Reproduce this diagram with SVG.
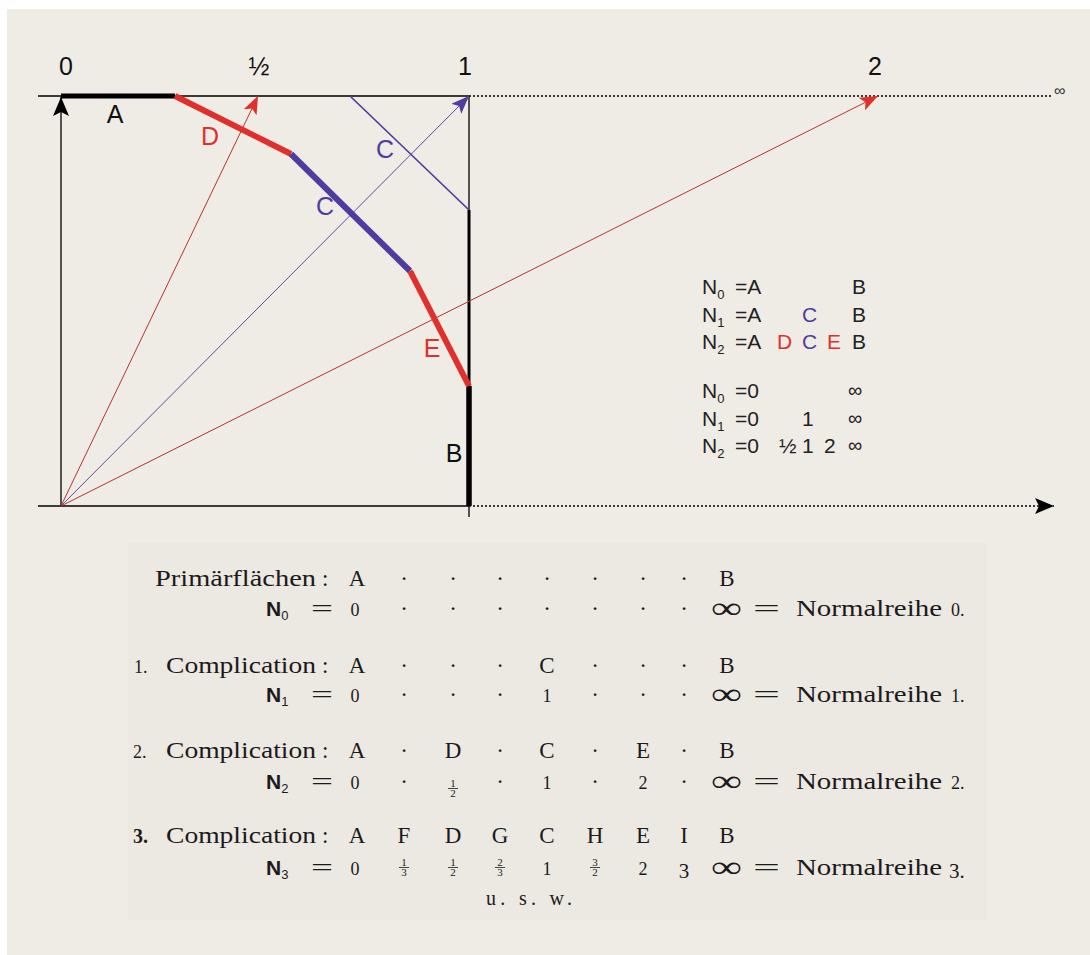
<svg xmlns="http://www.w3.org/2000/svg" width="1090" height="955" viewBox="0 0 1090 955">
<style>
.sans{font-family:"Liberation Sans",Arial,sans-serif;}
.serif{font-family:"Liberation Serif","Times New Roman",serif;fill:#1b1b1b;}
.lbl{font-family:"Liberation Sans",Arial,sans-serif;font-size:25px;}
.tick{font-family:"Liberation Sans",Arial,sans-serif;font-size:25px;fill:#111;text-anchor:middle;}
.tbl{font-family:"Liberation Sans",Arial,sans-serif;font-size:21px;fill:#222;}
.sub{font-size:13px;}
.inf{font-size:20px;}
.red{fill:#e0302c;}
.blue{fill:#4e3d9e;}
.big{font-size:23px;}
.m{text-anchor:middle;}
.num{font-size:18px;text-anchor:middle;}
.fr{font-size:11px;text-anchor:middle;}
.bar{stroke:#1b1b1b;stroke-width:0.8;}
.dot{font-size:23px;text-anchor:middle;}
.nb{font-family:"Liberation Sans",Arial,sans-serif;font-weight:bold;font-size:21px;fill:#1b1b1b;}
</style>
<defs>
<marker id="arRed" markerUnits="userSpaceOnUse" markerWidth="20" markerHeight="16" refX="18" refY="7" orient="auto"><path d="M0,0 L18,7 L0,14 L4,7 z" fill="#e0302c"/></marker>
<marker id="arBlue" markerUnits="userSpaceOnUse" markerWidth="20" markerHeight="16" refX="18" refY="7" orient="auto"><path d="M0,0 L18,7 L0,14 L4,7 z" fill="#4e3d9e"/></marker>
<marker id="arBlack" markerUnits="userSpaceOnUse" markerWidth="22" markerHeight="18" refX="19" refY="8" orient="auto"><path d="M0,0 L19,8 L0,16 L4,8 z" fill="#000"/></marker>
</defs>
<rect x="0" y="0" width="1090" height="955" fill="#ffffff"/>
<rect x="7" y="9" width="1083" height="946" fill="#efebe5"/>
<rect x="128" y="543" width="859" height="377" fill="#ece8e2"/>

<g id="connectors" fill="none">
  <line x1="38" y1="96" x2="469" y2="96" stroke="#000" stroke-width="1.5"/>
  <line x1="469" y1="96" x2="1053" y2="96" stroke="#000" stroke-width="1.5" stroke-dasharray="2,2"/>
  <line x1="38" y1="506" x2="469" y2="506" stroke="#000" stroke-width="1.5"/>
  <line x1="469" y1="506" x2="1054" y2="506" stroke="#000" stroke-width="1.5" stroke-dasharray="2,2" marker-end="url(#arBlack)"/>
  <line x1="61" y1="506" x2="61" y2="97" stroke="#000" stroke-width="1.3" marker-end="url(#arBlack)"/>
  <line x1="469" y1="96" x2="469" y2="517" stroke="#000" stroke-width="1.3"/>
  <line x1="469" y1="210" x2="469" y2="386" stroke="#000" stroke-width="3"/>
  <line x1="469" y1="386" x2="469" y2="506" stroke="#000" stroke-width="5.5"/>
  <line x1="61" y1="506" x2="258" y2="96" stroke="#b8342c" stroke-width="1" marker-end="url(#arRed)"/>
  <line x1="61" y1="506" x2="469" y2="96" stroke="#5a4fa6" stroke-width="1" marker-end="url(#arBlue)"/>
  <line x1="61" y1="506" x2="878" y2="96" stroke="#b8342c" stroke-width="1" marker-end="url(#arRed)"/>
  <line x1="350" y1="96" x2="469" y2="210" stroke="#4e3d9e" stroke-width="1.7"/>
  <line x1="61" y1="96" x2="175" y2="96" stroke="#000" stroke-width="5"/>
  <line x1="175" y1="96" x2="291" y2="154" stroke="#e0302c" stroke-width="6"/>
  <line x1="291" y1="154" x2="410" y2="271" stroke="#4e3d9e" stroke-width="6"/>
  <line x1="410" y1="271" x2="469" y2="386" stroke="#e0302c" stroke-width="6"/>
</g>

<g id="axis-labels">
  <text class="tick" x="66" y="75">0</text>
  <text class="tick" x="259" y="75">½</text>
  <text class="tick" x="465" y="75">1</text>
  <text class="tick" x="875" y="75">2</text>
  <text class="sans" x="1054" y="96" font-size="16" fill="#333">∞</text>
</g>

<g id="segment-labels">
  <text class="lbl" x="115" y="123" text-anchor="middle" fill="#111">A</text>
  <text class="lbl red" x="210" y="145" text-anchor="middle">D</text>
  <text class="lbl blue" x="385" y="158" text-anchor="middle">C</text>
  <text class="lbl blue" x="325" y="215" text-anchor="middle">C</text>
  <text class="lbl red" x="432" y="357" text-anchor="middle">E</text>
  <text class="lbl" x="454" y="462" text-anchor="middle" fill="#111">B</text>
</g>

<g id="legend-letters" class="tbl">
  <text x="702" y="294">N<tspan class="sub" dy="5">0</tspan><tspan dy="-5" x="735">=A</tspan></text>
  <text x="852" y="294">B</text>
  <text x="702" y="322">N<tspan class="sub" dy="5">1</tspan><tspan dy="-5" x="735">=A</tspan></text>
  <text x="802" y="322" class="blue">C</text>
  <text x="852" y="322">B</text>
  <text x="702" y="349">N<tspan class="sub" dy="5">2</tspan><tspan dy="-5" x="735">=A</tspan></text>
  <text x="777" y="349" class="red">D</text>
  <text x="802" y="349" class="blue">C</text>
  <text x="827" y="349" class="red">E</text>
  <text x="852" y="349">B</text>
</g>

<g id="legend-numbers" class="tbl">
  <text x="702" y="398">N<tspan class="sub" dy="5">0</tspan><tspan dy="-5" x="735">=0</tspan></text>
  <text x="848" y="397" class="inf">∞</text>
  <text x="702" y="426">N<tspan class="sub" dy="5">1</tspan><tspan dy="-5" x="735">=0</tspan></text>
  <text x="802" y="426">1</text>
  <text x="848" y="425" class="inf">∞</text>
  <text x="702" y="453">N<tspan class="sub" dy="5">2</tspan><tspan dy="-5" x="735">=0</tspan></text>
  <text x="779" y="453">½</text>
  <text x="802" y="453">1</text>
  <text x="824" y="453">2</text>
  <text x="848" y="452" class="inf">∞</text>
</g>

<g id="table" class="serif">
  <text x="155" y="586" font-size="23" textLength="161" lengthAdjust="spacingAndGlyphs">Primärflächen</text>
  <text x="322" y="586" font-size="23">:</text>
  <text class="big m" x="357" y="586">A</text>
  <g class="dot"><text x="404" y="586">·</text><text x="453" y="586">·</text><text x="500" y="586">·</text><text x="547" y="586">·</text><text x="595" y="586">·</text><text x="643" y="586">·</text><text x="684" y="586">·</text></g>
  <text class="big m" x="727" y="586">B</text>

  <text class="nb" x="266" y="616">N<tspan font-size="13" font-weight="normal" dy="4">0</tspan></text>
  <text x="311" y="616" font-size="23" textLength="22" lengthAdjust="spacingAndGlyphs">=</text>
  <text class="num" x="355" y="616">0</text>
  <g class="dot"><text x="404" y="616">·</text><text x="453" y="616">·</text><text x="500" y="616">·</text><text x="547" y="616">·</text><text x="595" y="616">·</text><text x="643" y="616">·</text><text x="684" y="616">·</text></g>
  <text x="711" y="618" font-size="30" textLength="31" lengthAdjust="spacingAndGlyphs">∞</text>
  <text x="753" y="616" font-size="23" textLength="27" lengthAdjust="spacingAndGlyphs">=</text>
  <text x="796" y="616" font-size="23" textLength="146" lengthAdjust="spacingAndGlyphs">Normalreihe</text>
  <text x="951" y="616" font-size="18">0.</text>

  <text x="134" y="673" font-size="18">1.</text>
  <text x="166" y="673" font-size="23" textLength="150" lengthAdjust="spacingAndGlyphs">Complication</text>
  <text x="322" y="673" font-size="23">:</text>
  <text class="big m" x="357" y="673">A</text>
  <g class="dot"><text x="404" y="673">·</text><text x="453" y="673">·</text><text x="500" y="673">·</text></g>
  <text class="big m" x="547" y="673">C</text>
  <g class="dot"><text x="595" y="673">·</text><text x="643" y="673">·</text><text x="684" y="673">·</text></g>
  <text class="big m" x="727" y="673">B</text>

  <text class="nb" x="266" y="702">N<tspan font-size="13" font-weight="normal" dy="4">1</tspan></text>
  <text x="311" y="702" font-size="23" textLength="22" lengthAdjust="spacingAndGlyphs">=</text>
  <text class="num" x="355" y="702">0</text>
  <g class="dot"><text x="404" y="702">·</text><text x="453" y="702">·</text><text x="500" y="702">·</text></g>
  <text class="num" x="547" y="702">1</text>
  <g class="dot"><text x="595" y="702">·</text><text x="643" y="702">·</text><text x="684" y="702">·</text></g>
  <text x="711" y="704" font-size="30" textLength="31" lengthAdjust="spacingAndGlyphs">∞</text>
  <text x="753" y="702" font-size="23" textLength="27" lengthAdjust="spacingAndGlyphs">=</text>
  <text x="796" y="702" font-size="23" textLength="146" lengthAdjust="spacingAndGlyphs">Normalreihe</text>
  <text x="951" y="702" font-size="18">1.</text>

  <text x="133" y="758" font-size="18">2.</text>
  <text x="166" y="758" font-size="23" textLength="150" lengthAdjust="spacingAndGlyphs">Complication</text>
  <text x="322" y="758" font-size="23">:</text>
  <text class="big m" x="357" y="758">A</text>
  <text class="dot" x="404" y="758">·</text>
  <text class="big m" x="453" y="758">D</text>
  <text class="dot" x="500" y="758">·</text>
  <text class="big m" x="547" y="758">C</text>
  <text class="dot" x="595" y="758">·</text>
  <text class="big m" x="643" y="758">E</text>
  <text class="dot" x="684" y="758">·</text>
  <text class="big m" x="727" y="758">B</text>

  <text class="nb" x="266" y="789">N<tspan font-size="13" font-weight="normal" dy="4">2</tspan></text>
  <text x="311" y="789" font-size="23" textLength="22" lengthAdjust="spacingAndGlyphs">=</text>
  <text class="num" x="355" y="789">0</text>
  <text class="dot" x="404" y="789">·</text>
  <text class="fr" x="453" y="787">1</text><line class="bar" x1="448" y1="788.5" x2="458" y2="788.5"/><text class="fr" x="453" y="797">2</text>
  <text class="dot" x="500" y="789">·</text>
  <text class="num" x="547" y="789">1</text>
  <text class="dot" x="595" y="789">·</text>
  <text class="num" x="643" y="789">2</text>
  <text class="dot" x="684" y="789">·</text>
  <text x="711" y="791" font-size="30" textLength="31" lengthAdjust="spacingAndGlyphs">∞</text>
  <text x="753" y="789" font-size="23" textLength="27" lengthAdjust="spacingAndGlyphs">=</text>
  <text x="796" y="789" font-size="23" textLength="146" lengthAdjust="spacingAndGlyphs">Normalreihe</text>
  <text x="951" y="789" font-size="18">2.</text>

  <text x="133" y="843" font-size="20" font-weight="bold">3.</text>
  <text x="166" y="843" font-size="23" textLength="150" lengthAdjust="spacingAndGlyphs">Complication</text>
  <text x="322" y="843" font-size="23">:</text>
  <text class="big m" x="357" y="843">A</text>
  <text class="big m" x="404" y="843">F</text>
  <text class="big m" x="453" y="843">D</text>
  <text class="big m" x="500" y="843">G</text>
  <text class="big m" x="547" y="843">C</text>
  <text class="big m" x="595" y="843">H</text>
  <text class="big m" x="643" y="843">E</text>
  <text class="big m" x="684" y="843">I</text>
  <text class="big m" x="727" y="843">B</text>

  <text class="nb" x="266" y="875">N<tspan font-size="13" font-weight="normal" dy="4">3</tspan></text>
  <text x="311" y="875" font-size="23" textLength="22" lengthAdjust="spacingAndGlyphs">=</text>
  <text class="num" x="355" y="875">0</text>
  <text class="fr" x="404" y="866">1</text><line class="bar" x1="399" y1="867.5" x2="409" y2="867.5"/><text class="fr" x="404" y="876">3</text>
  <text class="fr" x="453" y="866">1</text><line class="bar" x1="448" y1="867.5" x2="458" y2="867.5"/><text class="fr" x="453" y="876">2</text>
  <text class="fr" x="500" y="866">2</text><line class="bar" x1="495" y1="867.5" x2="505" y2="867.5"/><text class="fr" x="500" y="876">3</text>
  <text class="num" x="547" y="875">1</text>
  <text class="fr" x="595" y="866">3</text><line class="bar" x1="590" y1="867.5" x2="600" y2="867.5"/><text class="fr" x="595" y="876">2</text>
  <text class="num" x="643" y="875">2</text>
  <text x="684" y="878" font-size="21" text-anchor="middle">3</text>
  <text x="711" y="877" font-size="30" textLength="31" lengthAdjust="spacingAndGlyphs">∞</text>
  <text x="753" y="875" font-size="23" textLength="27" lengthAdjust="spacingAndGlyphs">=</text>
  <text x="796" y="875" font-size="23" textLength="146" lengthAdjust="spacingAndGlyphs">Normalreihe</text>
  <text x="949" y="878" font-size="21">3.</text>

  <text x="486" y="905" font-size="20" textLength="86" lengthAdjust="spacing">u. s. w.</text>
</g>
</svg>
